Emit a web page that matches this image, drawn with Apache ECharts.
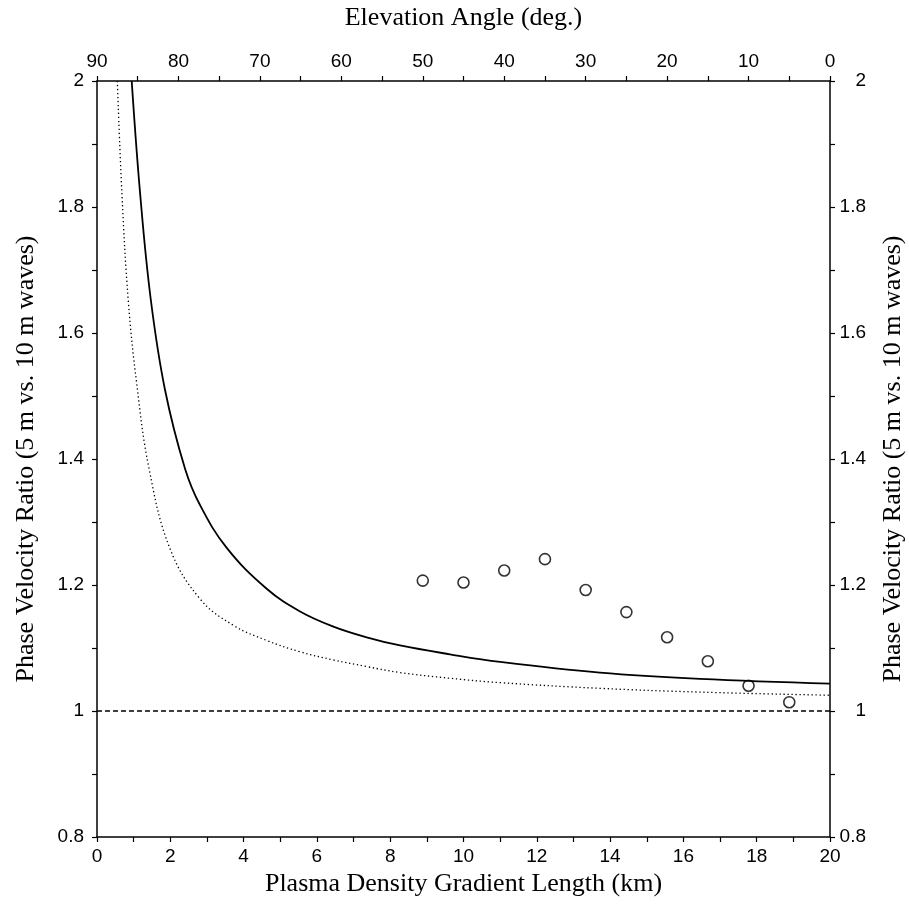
<!DOCTYPE html>
<html>
<head>
<meta charset="utf-8">
<script src="https://cdn.jsdelivr.net/npm/echarts@6/dist/echarts.min.js"></script>
<style>
html,body{margin:0;padding:0;background:#fff;overflow:hidden;}
#c{width:909px;height:908px;}
</style>
</head>
<body>
<div id="c"></div>
<script>
// Solid curve (km, ratio)
var solidKm    = [0.947, 1.18, 1.47, 1.855, 2.40, 2.81, 3.54, 4.63, 5.54, 6.45, 7.36, 8.27, 9.63, 11.0, 13.72, 16.45, 20];
var solidRatio = [2.0, 1.819, 1.652, 1.510, 1.385, 1.327, 1.259, 1.194, 1.158, 1.134, 1.117, 1.104, 1.090, 1.078, 1.061, 1.051, 1.0435];
// Dotted curve (km, ratio)
var dotKm    = [0.554, 0.682, 0.855, 1.083, 1.419, 1.99, 2.81, 3.72, 4.63, 5.54, 6.45, 7.36, 8.27, 9.63, 11.0, 13.72, 16.45, 20];
var dotRatio = [2.0, 1.819, 1.650, 1.520, 1.385, 1.258, 1.178, 1.136, 1.112, 1.094, 1.081, 1.0705, 1.061, 1.052, 1.045, 1.036, 1.030, 1.025];
// Reference line at ratio 1
var refKm = [0, 20];
var refRatio = [1, 1];
// Observed points (elevation angle in deg, ratio)
var obsElev  = [50, 45, 40, 35, 30, 25, 20, 15, 10, 5];
var obsRatio = [1.207, 1.204, 1.223, 1.241, 1.192, 1.157, 1.117, 1.079, 1.040, 1.014];

function zip(a, b){ return a.map(function(v,i){ return [v, b[i]]; }); }

var serif = 'Liberation Serif';
var sans = 'Liberation Sans';
var axisLineStyle = {color:'#000', width:1.5};
var chart = echarts.init(document.getElementById('c'));
var yFmt = function(v){ return String(Math.round(v*10)/10); };
var tickStyle = {color:'#000', width:1.2};

chart.setOption({
  animation:false,
  backgroundColor:'#fff',
  grid:{left:97, top:81, width:733, height:756, containLabel:false, outerBoundsMode:'none'},
  xAxis:[{
    type:'value', position:'bottom', min:0, max:20, interval:2,
    name:'Plasma Density Gradient Length (km)', nameLocation:'middle', nameGap:34,
    nameTextStyle:{fontFamily:serif, fontSize:26, color:'#000'},
    axisLine:{show:true, onZero:false, lineStyle:axisLineStyle},
    axisTick:{show:true, inside:false, length:5, lineStyle:tickStyle},
    minorTick:{show:true, splitNumber:2, length:5, lineStyle:tickStyle},
    axisLabel:{fontFamily:sans, fontSize:19, color:'#000', margin:10},
    splitLine:{show:false}
  },{
    type:'value', position:'top', min:0, max:90, interval:10, inverse:true,
    name:'Elevation Angle (deg.)', nameLocation:'middle', nameGap:50,
    nameTextStyle:{fontFamily:serif, fontSize:26, color:'#000'},
    axisLine:{show:true, onZero:false, lineStyle:axisLineStyle},
    axisTick:{show:true, inside:false, length:5, lineStyle:tickStyle},
    minorTick:{show:true, splitNumber:2, length:5, lineStyle:tickStyle},
    axisLabel:{fontFamily:sans, fontSize:19, color:'#000', margin:10},
    splitLine:{show:false}
  }],
  yAxis:[{
    type:'value', position:'left', min:0.8, max:2, interval:0.2,
    name:'Phase Velocity Ratio (5 m vs. 10 m waves)', nameLocation:'middle', nameGap:58,
    nameTextStyle:{fontFamily:serif, fontSize:26, color:'#000'},
    axisLine:{show:true, onZero:false, lineStyle:axisLineStyle},
    axisTick:{show:true, inside:false, length:5, lineStyle:tickStyle},
    minorTick:{show:true, splitNumber:2, length:5, lineStyle:tickStyle},
    axisLabel:{fontFamily:sans, fontSize:19, color:'#000', margin:13, formatter:yFmt},
    splitLine:{show:false}
  },{
    type:'value', position:'right', min:0.8, max:2, interval:0.2,
    name:'Phase Velocity Ratio (5 m vs. 10 m waves)', nameLocation:'middle', nameGap:50,
    nameTextStyle:{fontFamily:serif, fontSize:26, color:'#000'},
    axisLine:{show:true, onZero:false, lineStyle:axisLineStyle},
    axisTick:{show:true, inside:false, length:5, lineStyle:tickStyle},
    minorTick:{show:true, splitNumber:2, length:5, lineStyle:tickStyle},
    axisLabel:{fontFamily:sans, fontSize:19, color:'#000', margin:36, align:'right', formatter:yFmt},
    splitLine:{show:false}
  }],
  series:[{
    type:'line', xAxisIndex:0, yAxisIndex:0, data:zip(refKm, refRatio),
    showSymbol:false, lineStyle:{color:'#000', width:1.5, type:[5,3]}, silent:true
  },{
    type:'line', xAxisIndex:0, yAxisIndex:0, data:zip(solidKm, solidRatio),
    smooth:0.4, showSymbol:false, clip:true, lineStyle:{color:'#000', width:1.8}
  },{
    type:'line', xAxisIndex:0, yAxisIndex:0, data:zip(dotKm, dotRatio),
    smooth:0.4, showSymbol:false, clip:true, lineStyle:{color:'#000', width:1.3, type:[1.3,2.7]}
  },{
    type:'scatter', xAxisIndex:1, yAxisIndex:0, data:zip(obsElev, obsRatio),
    symbol:'circle', symbolSize:11,
    itemStyle:{color:'#fff', borderColor:'#000', borderWidth:1.6}
  }]
});
</script>
</body>
</html>
